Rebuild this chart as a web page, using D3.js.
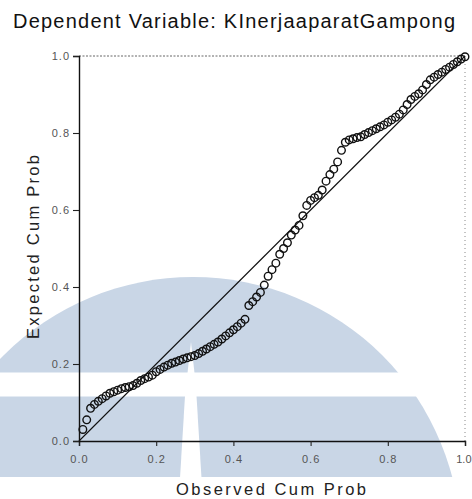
<!DOCTYPE html>
<html>
<head>
<meta charset="utf-8">
<script src="https://cdn.jsdelivr.net/npm/d3@7"></script>
<style>
html,body{margin:0;padding:0;background:#fff;}
svg{display:block;}
</style>
</head>
<body>
<svg id="chart" width="472" height="499"></svg>
<script>
const titleText = "Dependent Variable: KInerjaaparatGampong";
const xTitle = "Observed Cum Prob";
const yTitle = "Expected Cum Prob";
const tickValues = [0, 0.2, 0.4, 0.6, 0.8, 1.0];

const observed = [
0.01,0.02,0.03,0.04,0.05,0.06,0.07,0.08,0.09,0.10,
0.11,0.12,0.13,0.14,0.15,0.16,0.17,0.18,0.19,0.20,
0.21,0.22,0.23,0.24,0.25,0.26,0.27,0.28,0.29,0.30,
0.31,0.32,0.33,0.34,0.35,0.36,0.37,0.38,0.39,0.40,
0.41,0.42,0.43,0.44,0.45,0.46,0.47,0.48,0.49,0.50,
0.51,0.52,0.53,0.54,0.55,0.56,0.57,0.58,0.59,0.60,
0.61,0.62,0.63,0.64,0.65,0.66,0.67,0.68,0.69,0.70,
0.71,0.72,0.73,0.74,0.75,0.76,0.77,0.78,0.79,0.80,
0.81,0.82,0.83,0.84,0.85,0.86,0.87,0.88,0.89,0.90,
0.91,0.92,0.93,0.94,0.95,0.96,0.97,0.98,0.99,1.00
];
const expected = [
0.030,0.055,0.085,0.095,0.103,0.110,0.117,0.124,0.128,0.132,
0.136,0.139,0.141,0.144,0.150,0.157,0.162,0.166,0.171,0.180,
0.186,0.192,0.197,0.202,0.205,0.209,0.213,0.216,0.219,0.222,
0.227,0.233,0.239,0.245,0.251,0.257,0.265,0.273,0.281,0.289,
0.297,0.306,0.316,0.352,0.362,0.374,0.386,0.405,0.428,0.445,
0.462,0.485,0.500,0.515,0.535,0.548,0.560,0.585,0.612,0.625,
0.632,0.638,0.652,0.675,0.692,0.706,0.725,0.755,0.776,0.782,
0.785,0.788,0.790,0.796,0.801,0.806,0.811,0.816,0.821,0.828,
0.834,0.841,0.849,0.860,0.874,0.887,0.895,0.902,0.912,0.926,
0.938,0.945,0.952,0.958,0.965,0.971,0.978,0.985,0.992,0.998
];

const font = "'Liberation Sans', Arial, Helvetica, sans-serif";
const svg = d3.select("#chart");

const x = d3.scaleLinear().domain([0, 1]).range([79, 465]);
const y = d3.scaleLinear().domain([0, 1]).range([441, 56]);

// watermark (background decoration)
const wm = svg.append("g").attr("class", "watermark");
const defs = svg.append("defs");
defs.append("clipPath").attr("id", "wmclip")
  .append("rect").attr("x", 0).attr("y", 277).attr("width", 472).attr("height", 200);
const wmColor = "#c9d6e6";
wm.append("circle").attr("cx", 193).attr("cy", 545).attr("r", 268)
  .attr("fill", wmColor).attr("clip-path", "url(#wmclip)");
wm.append("rect").attr("x", 0).attr("y", 372.5).attr("width", 472).attr("height", 24).attr("fill", "#fff");
wm.append("polygon").attr("points", "191,342 187.5,373 194.5,373").attr("fill", "#fff");
wm.append("polygon").attr("points", "185,396 196.5,396 201.5,478 180,478").attr("fill", "#fff");

// frame (dotted top/right)
svg.append("line").attr("x1", x(0)).attr("x2", x(1)).attr("y1", y(1)).attr("y2", y(1))
  .attr("stroke", "#666").attr("stroke-width", 1).attr("stroke-dasharray", "2,1.5");
svg.append("line").attr("x1", x(1)).attr("x2", x(1)).attr("y1", y(1)).attr("y2", y(0))
  .attr("stroke", "#888").attr("stroke-width", 1).attr("stroke-dasharray", "1,3");

// diagonal reference line
svg.append("line").attr("x1", x(0)).attr("y1", y(0)).attr("x2", x(1)).attr("y2", y(1))
  .attr("stroke", "#111").attr("stroke-width", 1.1);

// axes
const fmt = d3.format(".1f");
const xAxis = svg.append("g").attr("transform", `translate(0,${y(0)})`)
  .call(d3.axisBottom(x).tickValues(tickValues).tickFormat(fmt).tickSize(5).tickPadding(9));
const yAxis = svg.append("g").attr("transform", `translate(${x(0)},0)`)
  .call(d3.axisLeft(y).tickValues(tickValues).tickFormat(fmt).tickSize(6).tickPadding(3));
[xAxis, yAxis].forEach(a => {
  a.select(".domain").attr("stroke", "#111").attr("stroke-width", 1.4);
  a.selectAll(".tick line").attr("stroke", "#222").attr("stroke-width", 1.1);
  a.selectAll(".tick text").attr("fill", "#555").style("font-family", font)
    .style("font-size", "11px").style("letter-spacing", "1px");
});
// keep the last x label inside the picture
xAxis.selectAll(".tick text").filter(d => d === 1)
  .style("letter-spacing", "0px").attr("text-anchor", "end").attr("x", 6);

// points
svg.append("g").selectAll("circle").data(observed).join("circle")
  .attr("cx", (d) => x(d))
  .attr("cy", (d, i) => y(expected[i]))
  .attr("r", 3.8)
  .attr("fill", "none")
  .attr("stroke", "#111")
  .attr("stroke-width", 1.4);

// titles
svg.append("text").attr("x", 13).attr("y", 28)
  .attr("textLength", 442).attr("lengthAdjust", "spacing")
  .style("font-family", font).style("font-size", "20px").attr("fill", "#111")
  .text(titleText);

svg.append("text").attr("x", 271).attr("y", 495).attr("text-anchor", "middle")
  .attr("textLength", 190).attr("lengthAdjust", "spacing")
  .style("font-family", font).style("font-size", "16.5px").attr("fill", "#222")
  .text(xTitle);

svg.append("text").attr("transform", "translate(39,247) rotate(-90)").attr("text-anchor", "middle")
  .attr("textLength", 184).attr("lengthAdjust", "spacing")
  .style("font-family", font).style("font-size", "16.5px").attr("fill", "#222")
  .text(yTitle);
</script>
</body>
</html>
